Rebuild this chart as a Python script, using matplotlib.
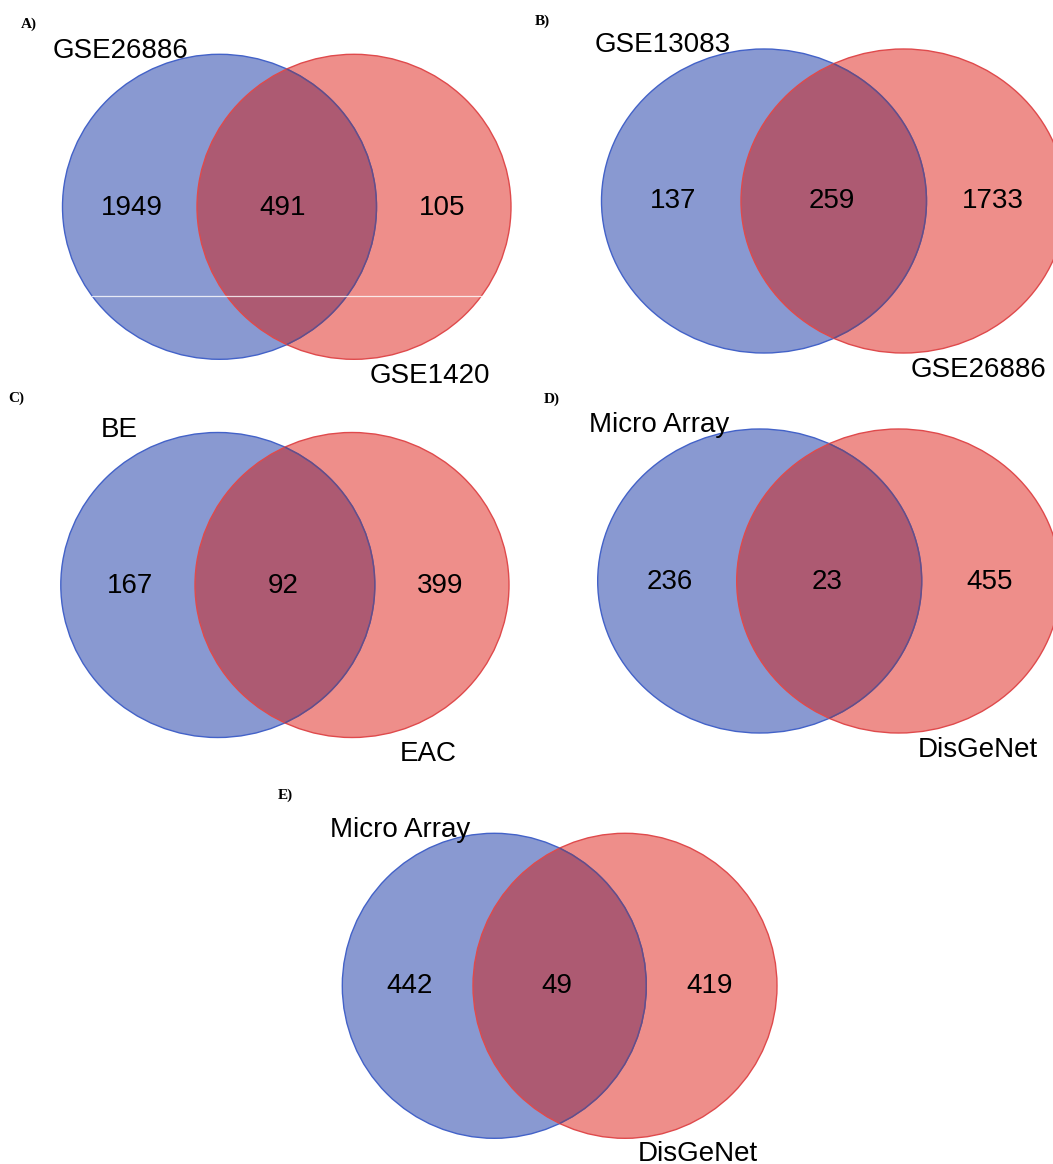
import matplotlib
matplotlib.use("Agg")
import matplotlib.pyplot as plt
from matplotlib.patches import Ellipse

# ---- data: two-set Venn counts per panel ----
panel_tags = ["A)", "B)", "C)", "D)", "E)"]
left_sets = ["GSE26886", "GSE13083", "BE", "Micro Array", "Micro Array"]
right_sets = ["GSE1420", "GSE26886", "EAC", "DisGeNet", "DisGeNet"]
left_only = [1949, 137, 167, 236, 442]
shared = [491, 259, 92, 23, 49]
right_only = [105, 1733, 399, 455, 419]

# ---- layout (pixel coordinates on the page) ----
# circle centres (left x, right x, y) and ellipse size (w, h)
geom = [
    (219.5, 354.0, 206.8, 314, 305),
    (764.0, 903.5, 201.0, 325, 304),
    (217.8, 352.0, 585.0, 314, 305),
    (759.7, 898.7, 581.0, 324, 304),
    (494.3, 625.0, 985.8, 304, 305),
]
# x positions of the three count labels, and their baseline
count_x = [(131.7, 283.0, 441.7), (673.0, 831.7, 993.0), (130.0, 283.3, 440.0),
           (669.3, 826.7, 989.3), (410.0, 557.3, 709.3)]
count_base = [215.0, 208.3, 592.7, 589.0, 993.0]
# set-name labels: (x, baseline) for left and right set
name_left = [(120.8, 58.3), (662.8, 51.7), (119.0, 436.7), (658.8, 432.0), (400.5, 836.7)]
name_right = [(430.0, 383.0), (979.0, 376.7), (428.0, 760.7), (977.5, 756.7), (698.3, 1160.7)]
tag_pos = [(20.7, 28.3), (534.7, 25.0), (8.3, 401.7), (544.0, 402.7), (277.3, 799.3)]

BLUE_FILL = "#8999d1"
RED_FILL = "#ee8e8a"
BOTH_FILL = "#ad5a72"
BLUE_EDGE = "#4362c8"
RED_EDGE = "#df4a4c"
BLUE_EDGE_IN = "#6c4c80"

W, H = 1053, 1164
fig = plt.figure(figsize=(W / 100, H / 100), dpi=100)
ax = fig.add_axes([0, 0, 1, 1])
ax.set_xlim(0, W)
ax.set_ylim(H, 0)
ax.set_aspect("equal")
ax.axis("off")

sans = "Liberation Sans"
serif = "Liberation Serif"

for i in range(len(panel_tags)):
    xl, xr, cy, w, h = geom[i]
    blue = Ellipse((xl, cy), w, h, facecolor=BLUE_FILL, edgecolor="none", zorder=1)
    red = Ellipse((xr, cy), w, h, facecolor=RED_FILL, edgecolor="none", zorder=2)
    ax.add_patch(blue)
    ax.add_patch(red)
    # intersection area
    inter = Ellipse((xl, cy), w, h, facecolor=BOTH_FILL, edgecolor="none", zorder=3)
    ax.add_patch(inter)
    inter.set_clip_path(Ellipse((xr, cy), w, h, transform=ax.transData))
    # outlines
    ax.add_patch(Ellipse((xl, cy), w, h, facecolor="none", edgecolor=BLUE_EDGE, lw=1.0, zorder=4))
    ax.add_patch(Ellipse((xr, cy), w, h, facecolor="none", edgecolor=RED_EDGE, lw=1.0, zorder=5))
    inner = Ellipse((xl, cy), w, h, facecolor="none", edgecolor=BLUE_EDGE_IN, lw=1.0, zorder=6)
    ax.add_patch(inner)
    inner.set_clip_path(Ellipse((xr, cy), w, h, transform=ax.transData))

    # counts
    vals = (left_only[i], shared[i], right_only[i])
    for x, v in zip(count_x[i], vals):
        ax.text(x, count_base[i], str(v), ha="center", va="baseline",
                fontsize=20, family=sans, color="black", zorder=10)
    # set names
    ax.text(*name_left[i], left_sets[i], ha="center", va="baseline",
            fontsize=20, family=sans, color="black", zorder=10)
    ax.text(*name_right[i], right_sets[i], ha="center", va="baseline",
            fontsize=20, family=sans, color="black", zorder=10)
    # panel tag
    ax.text(*tag_pos[i], panel_tags[i], ha="left", va="baseline",
            fontsize=11, family=serif, fontweight="bold", color="black", zorder=10)

# thin white scan line across panel A
ax.plot([92, 482], [296, 296], color="white", lw=0.9, alpha=0.8, zorder=7)

fig.savefig("out.png", dpi=100)
